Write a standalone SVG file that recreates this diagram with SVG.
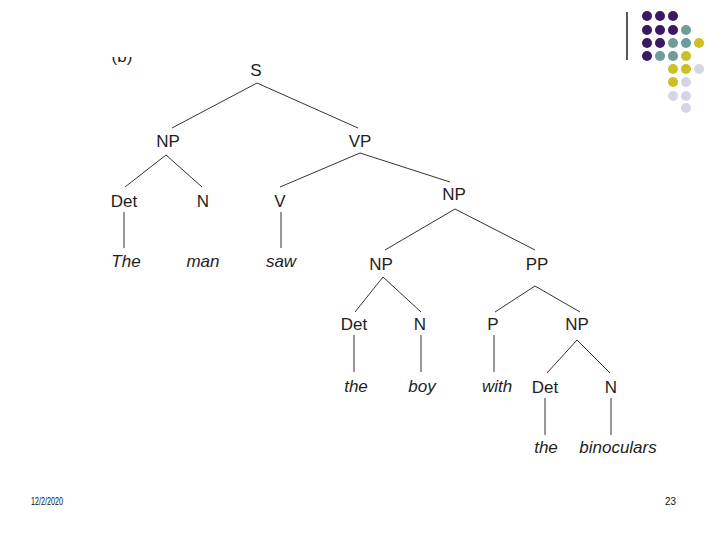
<svg xmlns="http://www.w3.org/2000/svg" width="720" height="540" viewBox="0 0 720 540">
<style>
.lbl{font-family:"Liberation Sans",Arial,sans-serif;font-size:17px;fill:#1e1e1e;text-anchor:middle}
.leaf{font-style:italic}
.ft{font-family:"Liberation Sans",Arial,sans-serif;font-size:10px;fill:#111}
.edge{stroke:#333;stroke-width:1;fill:none}
.pu{fill:#3a1863}.te{fill:#6e9c9b}.ye{fill:#c9c126}.la{fill:#d5d5e6}
</style>
<defs><clipPath id="cb"><rect x="100" y="57" width="50" height="20"/></clipPath></defs>
<rect width="720" height="540" fill="#fff"/>
<g id="decor">
<line x1="627" y1="12" x2="627" y2="60" stroke="#222" stroke-width="1.5"/>
<circle class="pu" cx="647" cy="16" r="5"/><circle class="pu" cx="660" cy="16" r="5"/><circle class="pu" cx="673" cy="16" r="5"/>
<circle class="pu" cx="647" cy="30" r="5"/><circle class="pu" cx="660" cy="30" r="5"/><circle class="pu" cx="673" cy="30" r="5"/><circle class="te" cx="686" cy="30" r="5"/>
<circle class="pu" cx="647" cy="43" r="5"/><circle class="pu" cx="660" cy="43" r="5"/><circle class="te" cx="673" cy="43" r="5"/><circle class="te" cx="686" cy="43" r="5"/><circle class="ye" cx="699" cy="43" r="5"/>
<circle class="pu" cx="647" cy="56" r="5"/><circle class="te" cx="660" cy="56" r="5"/><circle class="te" cx="673" cy="56" r="5"/><circle class="ye" cx="686" cy="56" r="5"/>
<circle class="ye" cx="673" cy="69" r="5"/><circle class="ye" cx="686" cy="69" r="5"/><circle class="la" cx="699" cy="69" r="5"/>
<circle class="ye" cx="673" cy="82" r="5"/><circle class="la" cx="686" cy="82" r="5"/>
<circle class="la" cx="673" cy="96" r="5"/><circle class="la" cx="686" cy="96" r="5"/>
<circle class="la" cx="686" cy="108" r="5"/>
</g>
<text class="lbl" x="122" y="62" clip-path="url(#cb)">(b)</text>
<g id="connectors">
<line class="edge" x1="257" y1="83" x2="172" y2="128"/>
<line class="edge" x1="257" y1="83" x2="358" y2="128"/>
<line class="edge" x1="166" y1="155" x2="125" y2="187"/>
<line class="edge" x1="166" y1="155" x2="202" y2="187"/>
<line class="edge" x1="360" y1="153" x2="280" y2="187"/>
<line class="edge" x1="360" y1="153" x2="450" y2="182"/>
<line class="edge" x1="124" y1="212" x2="124" y2="248"/>
<line class="edge" x1="281" y1="212" x2="281" y2="248"/>
<line class="edge" x1="455" y1="209" x2="385" y2="250"/>
<line class="edge" x1="455" y1="209" x2="535" y2="250"/>
<line class="edge" x1="383" y1="277" x2="355" y2="312"/>
<line class="edge" x1="383" y1="277" x2="421" y2="312"/>
<line class="edge" x1="535" y1="286" x2="495" y2="312"/>
<line class="edge" x1="535" y1="286" x2="580" y2="312"/>
<line class="edge" x1="354" y1="335" x2="354" y2="372"/>
<line class="edge" x1="421" y1="335" x2="421" y2="372"/>
<line class="edge" x1="494" y1="335" x2="494" y2="372"/>
<line class="edge" x1="577" y1="340" x2="547" y2="373"/>
<line class="edge" x1="577" y1="340" x2="610" y2="373"/>
<line class="edge" x1="545" y1="398" x2="545" y2="435"/>
<line class="edge" x1="611" y1="398" x2="611" y2="435"/>
</g>
<g id="n-S"><text class="lbl" x="256" y="76">S</text></g>
<g id="n-NP1"><text class="lbl" x="168" y="147">NP</text></g>
<g id="n-VP"><text class="lbl" x="360" y="147">VP</text></g>
<g id="n-Det1"><text class="lbl" x="124" y="207">Det</text></g>
<g id="n-N1"><text class="lbl" x="203" y="207">N</text></g>
<g id="n-V"><text class="lbl" x="280" y="207">V</text></g>
<g id="n-NP2"><text class="lbl" x="454" y="200">NP</text></g>
<g id="w-The"><text class="lbl leaf" x="126" y="267">The</text></g>
<g id="w-man"><text class="lbl leaf" x="203" y="267">man</text></g>
<g id="w-saw"><text class="lbl leaf" x="281" y="267">saw</text></g>
<g id="n-NP3"><text class="lbl" x="381" y="270">NP</text></g>
<g id="n-PP"><text class="lbl" x="537" y="270">PP</text></g>
<g id="n-Det2"><text class="lbl" x="354" y="330">Det</text></g>
<g id="n-N2"><text class="lbl" x="420" y="330">N</text></g>
<g id="n-P"><text class="lbl" x="493" y="330">P</text></g>
<g id="n-NP4"><text class="lbl" x="577" y="330">NP</text></g>
<g id="w-the1"><text class="lbl leaf" x="356" y="392">the</text></g>
<g id="w-boy"><text class="lbl leaf" x="422" y="392">boy</text></g>
<g id="w-with"><text class="lbl leaf" x="497" y="392">with</text></g>
<g id="n-Det3"><text class="lbl" x="545" y="393">Det</text></g>
<g id="n-N3"><text class="lbl" x="611" y="393">N</text></g>
<g id="w-the2"><text class="lbl leaf" x="546" y="453">the</text></g>
<g id="w-binoculars"><text class="lbl leaf" x="618" y="453">binoculars</text></g>
<text class="ft" x="31" y="505" textLength="32" lengthAdjust="spacingAndGlyphs">12/2/2020</text>
<text class="ft" x="665" y="505" textLength="11" lengthAdjust="spacingAndGlyphs">23</text>
</svg>
